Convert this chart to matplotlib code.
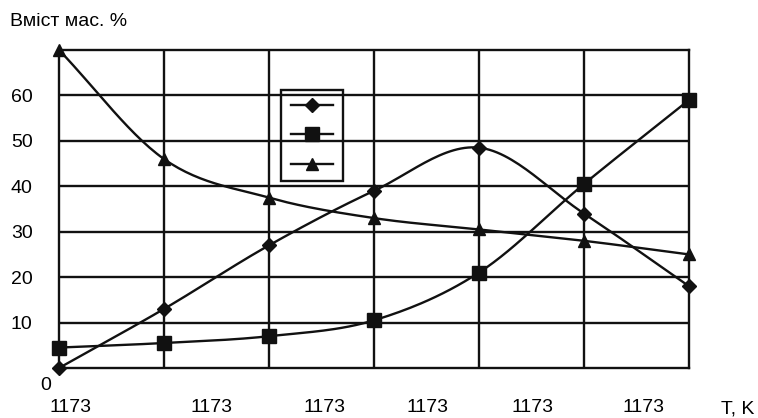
import matplotlib
matplotlib.use("Agg")
import matplotlib.pyplot as plt
import numpy as np

plt.rcParams['font.family'] = ['Liberation Sans', 'DejaVu Sans']

# x positions are the 7 grid columns
x = [0, 1, 2, 3, 4, 5, 6]
diamond = [0, 13, 27, 39, 48.5, 34, 18]
square = [4.5, 5.5, 7, 10.5, 21, 40.5, 59]
triangle = [70, 46, 37.5, 33, 30.5, 28, 25]
yticks = [10, 20, 30, 40, 50, 60]
xlabel_pos = [0.105, 1.457, 2.533, 3.514, 4.505, 5.562]
xlabels = ["1173"] * 6

FS = 14


def smooth(xs, ys, n=30):
    # Catmull-Rom curve through the points, for drawing the line only
    p = np.column_stack([xs, ys]).astype(float)
    p = np.vstack([2 * p[0] - p[1], p, 2 * p[-1] - p[-2]])
    out = []
    t = np.linspace(0, 1, n)[:, None]
    for i in range(1, len(p) - 2):
        p0, p1, p2, p3 = p[i - 1], p[i], p[i + 1], p[i + 2]
        seg = 0.5 * ((2 * p1) + (-p0 + p2) * t + (2 * p0 - 5 * p1 + 4 * p2 - p3) * t**2
                     + (-p0 + 3 * p1 - 3 * p2 + p3) * t**3)
        out.append(seg)
    out = np.vstack(out)
    return out[:, 0], out[:, 1]


fig = plt.figure(figsize=(7.58, 4.18), dpi=100)
ax = fig.add_axes([59 / 758, 50 / 418, 630 / 758, 318 / 418])
ax.set_xlim(0, 6)
ax.set_ylim(0, 70)

for xv in x[1:-1]:
    ax.axvline(xv, color="#111111", lw=1.7, zorder=1)
for yv in yticks:
    ax.axhline(yv, color="#111111", lw=1.7, zorder=1)
for s in ax.spines.values():
    s.set_linewidth(1.7)
    s.set_color("#111111")

series = [(diamond, "D", 7), (square, "s", 10), (triangle, "^", 8)]
handles = []
for ys, m, ms in series:
    sx, sy = smooth(x, ys)
    ax.plot(sx, sy, color="#111111", lw=1.7, zorder=3, clip_on=False)
    ax.plot(x, ys, ls="none", marker=m, ms=ms, color="#111111", zorder=4, clip_on=False)
    handles.append(plt.Line2D([], [], color="#111111", lw=1.7, marker=m, ms=ms))

leg = ax.legend(handles, ["", "", ""], loc="upper left", bbox_to_anchor=(0.352, 0.874),
                frameon=True, fancybox=False, edgecolor="#111111", framealpha=1,
                handlelength=3.4, handletextpad=0, labelspacing=1.4, borderpad=0.8,
                borderaxespad=0, fontsize=9)
leg.get_frame().set_facecolor("none")
leg.get_frame().set_linewidth(1.7)
leg.set_zorder(5)

ax.set_yticks(yticks)
ax.set_yticklabels([str(v) for v in yticks], fontsize=FS)
ax.tick_params(axis="y", length=0, pad=19)
ax.set_xticks(xlabel_pos)
ax.set_xticklabels(xlabels, fontsize=FS)
ax.tick_params(axis="x", length=0, pad=22)

fig.text(10 / 758, 1 - 21 / 418, "Вміст мас. %", fontsize=FS, va="center", ha="left")
fig.text(46 / 758, 1 - 385 / 418, "0", fontsize=FS, va="center", ha="center")
fig.text(738 / 758, 1 - 409 / 418, "T, K", fontsize=FS, va="center", ha="center")

fig.savefig("out.png", dpi=100)
